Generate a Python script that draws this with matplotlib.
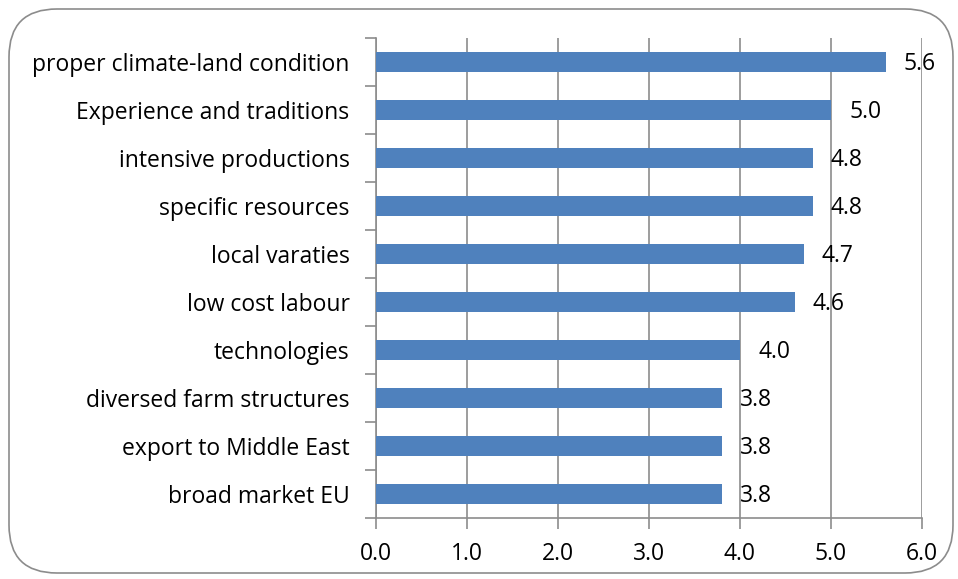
import matplotlib
matplotlib.use("Agg")
import matplotlib.pyplot as plt
from matplotlib.patches import FancyBboxPatch

categories = ["proper climate-land condition", "Experience and traditions",
              "intensive productions", "specific resources", "local varaties",
              "low cost labour", "technologies", "diversed farm structures",
              "export to Middle East", "broad market EU"]
values = [5.6, 5.0, 4.8, 4.8, 4.7, 4.6, 4.0, 3.8, 3.8, 3.8]
xticks = [0.0, 1.0, 2.0, 3.0, 4.0, 5.0, 6.0]

plt.rcParams['font.family'] = ['Open Sans', 'DejaVu Sans']
FS = 16.5

W, H = 958, 579
fig = plt.figure(figsize=(W/100, H/100), dpi=100)
fig.patch.set_facecolor('white')

border = FancyBboxPatch((9/W, 6/H), (W-14)/W, (H-15)/H,
                        boxstyle="round,pad=0,rounding_size=0.05",
                        transform=fig.transFigure, facecolor='none',
                        edgecolor='#8c8c8c', linewidth=1.2,
                        mutation_aspect=W/H, zorder=-1)
fig.patches.append(border)

left, right, top, bottom = 376, 922, 38, 518
ax = fig.add_axes([left/W, 1-bottom/H, (right-left)/W, (bottom-top)/H])
ax.set_facecolor('none')

n = len(categories)
pos = list(range(n))
ax.barh(pos, values, height=0.4, color='#4F81BD', zorder=3)
ax.set_ylim(n-0.5, -0.5)
ax.set_xlim(0, 6)

ax.set_xticks(xticks)
ax.set_xticklabels([f"{v:.1f}" for v in xticks], fontsize=FS)
ax.xaxis.grid(True, color='#8c8c8c', linewidth=1.2, zorder=0)

ax.set_yticks([i - 0.5 for i in range(n+1)])
ax.set_yticklabels([])
ax.set_yticks(pos, minor=True)
ax.set_yticklabels(categories, minor=True, fontsize=FS)
ax.tick_params(axis='y', which='minor', length=0, pad=19)
ax.tick_params(axis='y', which='major', length=8, color='#8c8c8c', width=1.2)
ax.tick_params(axis='x', length=8, color='#8c8c8c', width=1.2, pad=9)

for s in ['top', 'right']:
    ax.spines[s].set_visible(False)
for s in ['left', 'bottom']:
    ax.spines[s].set_color('#8c8c8c')
    ax.spines[s].set_linewidth(1.2)

for i, v in enumerate(values):
    ax.annotate(f"{v:.1f}", (v, i), xytext=(13, -1.5), textcoords='offset points',
                va='center', ha='left', fontsize=FS, zorder=4)

fig.savefig("out.png", dpi=100)
